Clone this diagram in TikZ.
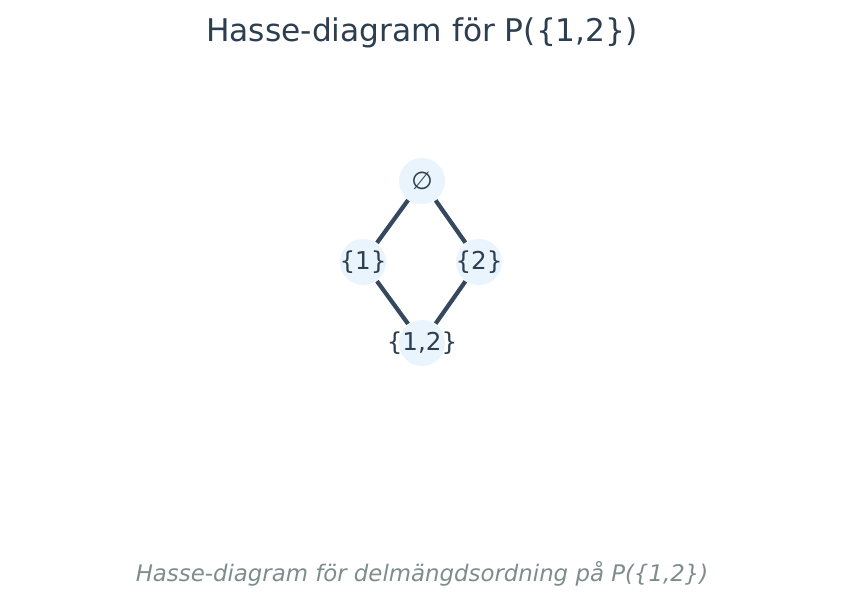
\documentclass[tikz,border=0pt]{standalone}
\usepackage{fontspec}
\setmainfont{DejaVu Sans}
\usetikzlibrary{positioning}
\definecolor{titleColor}{HTML}{2C3E50}
\definecolor{nodeColor}{HTML}{EAF4FC}
\definecolor{lineColor}{HTML}{34495E}
\definecolor{captionColor}{HTML}{7F8C8D}
% label that may stick out of its circle
\newcommand{\setLabel}[1]{\makebox[0pt]{#1}}

\begin{document}
\begin{tikzpicture}[
    % Node Styles
    setNode/.style={
        circle,
        draw=none,
        fill=nodeColor,
        text=titleColor,
        minimum size=0.46cm,
        inner sep=0pt,
        font=\fontsize{7}{8}\selectfont
    },
    % Line Styles
    connector/.style={
        color=lineColor,
        line width=1.2pt
    },
    % Text Styles
    titleText/.style={
        font=\fontsize{8.9}{10}\selectfont,
        text=titleColor,
        anchor=base
    },
    captionText/.style={
        font=\fontsize{6.5}{7}\selectfont\itshape,
        text=captionColor,
        anchor=base
    }
]

    % --- CANVAS ---
    \useasboundingbox (0,0) rectangle (8.43,6.07);

    % --- TITLE ---
    \node[titleText] (title) at (4.22, 5.65) {Hasse-diagram för P(\{1,2\})};

    % --- ELEMENTS OF P({1,2}) ---
    \node[setNode] (empty) at (4.22, 4.26) {\setLabel{∅}};
    \node[setNode] (one) at (3.63, 3.45) {\setLabel{\{1\}}};
    \node[setNode] (two) at (4.79, 3.45) {\setLabel{\{2\}}};
    \node[setNode] (both) at (4.22, 2.64) {\setLabel{\{1,2\}}};

    % --- COVER RELATIONS ---
    \draw[connector] (empty) -- (one);
    \draw[connector] (empty) -- (two);
    \draw[connector] (one) -- (both);
    \draw[connector] (two) -- (both);

    % --- CAPTION ---
    \node[captionText] (caption) at (4.22, 0.25) {Hasse-diagram för delmängdsordning på P(\{1,2\})};

\end{tikzpicture}
\end{document}
